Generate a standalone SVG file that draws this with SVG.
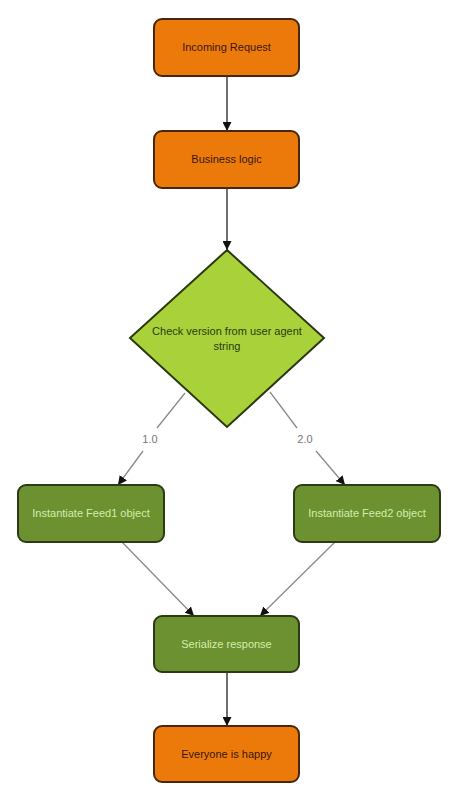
<svg xmlns="http://www.w3.org/2000/svg" width="460" height="802" viewBox="0 0 460 802">
<defs>
<marker id="ah" viewBox="0 0 10 10" refX="10" refY="5" markerWidth="9" markerHeight="9" markerUnits="userSpaceOnUse" orient="auto">
<path d="M0,0 L10,5 L0,10 z" fill="#111"/>
</marker>
<style>
.t{font-family:"Liberation Sans",Arial,sans-serif;font-size:11px;text-anchor:middle}
.orange{fill:#EC7A0A;stroke:#4a2608;stroke-width:2}
.ot{fill:#3a1605}
.green{fill:#6B9130;stroke:#2c3b12;stroke-width:2}
.gt{fill:#d6ecac}
.dia{fill:#A9D23A;stroke:#2a3810;stroke-width:2}
.dt{fill:#2a3a10}
.v{stroke:#222;stroke-width:1.3;fill:none}
.d{stroke:#8a8a8a;stroke-width:1.3;fill:none}
.lbl{fill:#777;font-size:11px}
</style>
</defs>
<rect width="460" height="802" fill="#fff"/>
<g id="connectors">
<line class="v" x1="227" y1="76" x2="227" y2="131" marker-end="url(#ah)"/>
<line class="v" x1="227" y1="188" x2="227" y2="250" marker-end="url(#ah)"/>
<line class="d" x1="185" y1="393" x2="157" y2="428"/>
<line class="d" x1="143" y1="451" x2="118" y2="485" marker-end="url(#ah)"/>
<line class="d" x1="270" y1="392" x2="297" y2="428"/>
<line class="d" x1="316" y1="451" x2="345" y2="485" marker-end="url(#ah)"/>
<line class="d" x1="122" y1="542" x2="194" y2="616" marker-end="url(#ah)"/>
<line class="d" x1="335" y1="542" x2="260" y2="616" marker-end="url(#ah)"/>
<line class="v" x1="227" y1="672" x2="227" y2="726" marker-end="url(#ah)"/>
<text class="t lbl" x="150" y="443">1.0</text>
<text class="t lbl" x="305" y="443">2.0</text>
</g>
<g id="incoming">
<rect class="orange" x="154" y="19" width="145" height="57" rx="8"/>
<text class="t ot" x="226.5" y="51">Incoming Request</text>
</g>
<g id="business">
<rect class="orange" x="154" y="131" width="145" height="57" rx="8"/>
<text class="t ot" x="226.5" y="163">Business logic</text>
</g>
<g id="check">
<polygon class="dia" points="227,250 324,338 227,427 130,338"/>
<text class="t dt" x="227" y="335">Check version from user agent</text>
<text class="t dt" x="227" y="350">string</text>
</g>
<g id="feed1">
<rect class="green" x="18" y="485" width="146" height="57" rx="8"/>
<text class="t gt" x="91" y="517">Instantiate Feed1 object</text>
</g>
<g id="feed2">
<rect class="green" x="294" y="485" width="146" height="57" rx="8"/>
<text class="t gt" x="367" y="517">Instantiate Feed2 object</text>
</g>
<g id="serialize">
<rect class="green" x="154" y="616" width="145" height="56" rx="8"/>
<text class="t gt" x="226.5" y="648">Serialize response</text>
</g>
<g id="happy">
<rect class="orange" x="154" y="726" width="145" height="56" rx="8"/>
<text class="t ot" x="226.5" y="758">Everyone is happy</text>
</g>
</svg>
